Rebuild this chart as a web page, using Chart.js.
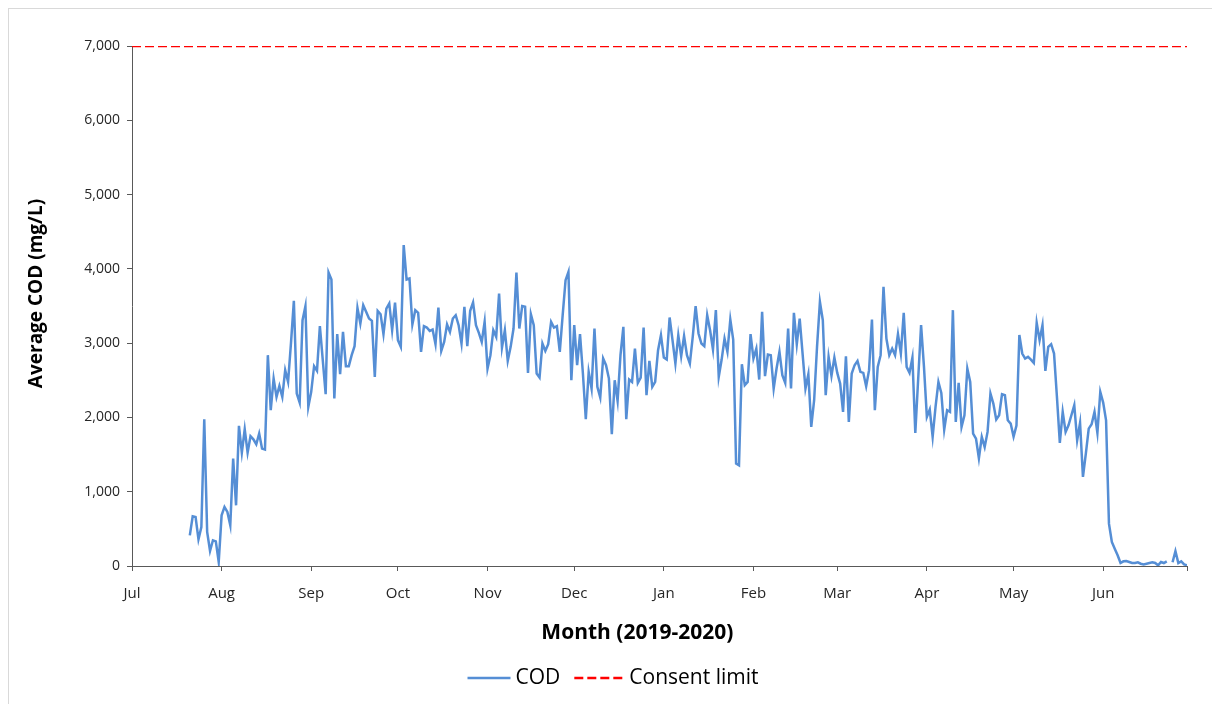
<!DOCTYPE html>
<html>
<head>
<meta charset="utf-8">
<script src="https://cdn.jsdelivr.net/npm/chart.js@4.4.1/dist/chart.umd.min.js"></script>
<style>
  html, body { margin: 0; padding: 0; background: #ffffff; }
  #wrap { position: relative; width: 1212px; height: 704px; }
  canvas { display: block; }
</style>
</head>
<body>
<div id="wrap"><canvas id="chart" width="1212" height="704"></canvas></div>
<script>
// Month tick labels and the day offset (from 1 Jul 2019) where each month starts
const monthLabels = ['Jul', 'Aug', 'Sep', 'Oct', 'Nov', 'Dec', 'Jan', 'Feb', 'Mar', 'Apr', 'May', 'Jun'];
const monthStartDays = [0, 31, 62, 92, 123, 153, 184, 215, 244, 275, 305, 336];
const axisEndDay = 365;          // 30 Jun 2020

// Daily average COD (mg/L), first sample on 21 Jul 2019 (day 20)
const firstDay = 20;
const codValues = [
  413, 669, 660, 359, 525, 1975, 458, 202, 346, 332,
  54, 682, 795, 727, 548, 1446, 817, 1886, 1527, 1841,
  1527, 1747, 1706, 1639, 1783, 1580, 1567, 2838, 2097, 2523,
  2276, 2424, 2276, 2636, 2478, 3000, 3570, 2321, 2200, 3309,
  3498, 2142, 2344, 2690, 2627, 3228, 2770, 2312, 3951, 3857,
  2254, 3121, 2582, 3152, 2690, 2690, 2838, 2959, 3475, 3264,
  3511, 3421, 3331, 3300, 2546, 3435, 3390, 3121, 3466, 3534,
  3174, 3547, 3040, 2950, 4319, 3857, 3870, 3251, 3444, 3408,
  2883, 3228, 3210, 3165, 3183, 2986, 3480, 2896, 3017, 3251,
  3152, 3331, 3376, 3242, 2995, 3489, 2959, 3435, 3547, 3242,
  3139, 3017, 3287, 2658, 2838, 3174, 3085, 3668, 2941, 3174,
  2761, 2950, 3197, 3951, 3197, 3498, 3489, 2600, 3390, 3242,
  2591, 2537, 2995, 2896, 2986, 3287, 3210, 3228, 2883, 3376,
  3848, 3960, 2501, 3242, 2703, 3121, 2591, 1976, 2613, 2389,
  3197, 2411, 2267, 2793, 2703, 2523, 1774, 2501, 2223, 2838,
  3219, 1976, 2510, 2478, 2927, 2465, 2537, 3210, 2300, 2761,
  2411, 2478, 2905, 3107, 2806, 2779, 3345, 3040, 2725, 3107,
  2824, 3094, 2838, 2725, 3085, 3498, 3130, 2995, 2959, 3376,
  3174, 2914, 3444, 2546, 2779, 3062, 2883, 3318, 3049, 1378,
  1356, 2716, 2434, 2478, 3121, 2793, 2927, 2510, 3421, 2555,
  2847, 2838, 2389, 2658, 2883, 2568, 2465, 3197, 2389, 3408,
  2986, 3331, 2860, 2389, 2582, 1872, 2232, 2950, 3556, 3309,
  2299, 2815, 2560, 2806, 2600, 2456, 2074, 2824, 1940, 2591,
  2703, 2761, 2613, 2600, 2420, 2636, 3318, 2097, 2681, 2838,
  3758, 3062, 2838, 2927, 2838, 3121, 2860, 3408, 2681, 2600,
  2806, 1792, 2520, 3242, 2681, 2007, 2106, 1738, 2142, 2478,
  2330, 1836, 2097, 2074, 3444, 1940, 2465, 1872, 2029, 2658,
  2478, 1783, 1715, 1450, 1738, 1600, 1805, 2321, 2187, 1971,
  2029, 2312, 2299, 1962, 1917, 1740, 1890, 3110, 2860, 2793,
  2815, 2779, 2734, 3273, 3040, 3242, 2627, 2950, 2986, 2860,
  2276, 1657, 2074, 1805, 1895, 2029, 2164, 1693, 1926, 1199,
  1513, 1850, 1908, 2074, 1792, 2344, 2200, 1960, 570, 323,
  233, 144, 40, 63, 67, 54, 40, 40, 49, 31,
  22, 31, 40, 49, 40, 9, 54, 40, 63, null,
  50, 200, 40, 63, 22, 10
];

// Consent limit (mg/L)
const consentLimit = 7000;

// Value axis range
const yMin = 0, yMax = 7000, yStep = 1000;

// Axis titles
const xTitle = 'Month (2019-2020)';
const yTitle = 'Average COD (mg/L)';

const codPoints = codValues.map((v, i) => ({ x: firstDay + i, y: v }));
const limitPoints = [{ x: 0, y: consentLimit }, { x: axisEndDay, y: consentLimit }];

const FONT = "'Open Sans', 'Noto Sans', sans-serif";
const AXIS_GREY = '#595959';

// Light frame along the top and left of the figure
const framePlugin = {
  id: 'frame',
  beforeDraw(chart) {
    const ctx = chart.ctx;
    ctx.save();
    ctx.fillStyle = '#ffffff';
    ctx.fillRect(0, 0, chart.width, chart.height);
    ctx.strokeStyle = '#d9d9d9';
    ctx.lineWidth = 1;
    ctx.strokeRect(8.5, 8.5, chart.width + 10, chart.height + 10);
    ctx.restore();
  }
};

// Axis titles, placed relative to the plot area
const axisTitlePlugin = {
  id: 'axisTitles',
  afterDraw(chart) {
    const ctx = chart.ctx;
    const area = chart.chartArea;
    ctx.save();
    ctx.fillStyle = '#000000';
    ctx.textAlign = 'center';
    ctx.textBaseline = 'middle';
    ctx.font = "bold 21px " + FONT;
    ctx.fillText(xTitle, area.left + (area.right - area.left) * 0.479, area.bottom + 67);
    ctx.translate(37, area.top + (area.bottom - area.top) * 0.476);
    ctx.rotate(-Math.PI / 2);
    ctx.font = "bold 19px " + FONT;
    ctx.fillText(yTitle, 0, 0);
    ctx.restore();
  }
};

// Legend row under the axis: line sample followed by the series name
const legendPlugin = {
  id: 'lineLegend',
  afterDraw(chart) {
    const ctx = chart.ctx;
    const sampleLen = [43, 50];
    const sampleGap = 5, itemGap = 14;
    const y = 678;
    ctx.save();
    ctx.font = "21px " + FONT;
    const items = chart.data.datasets.map((ds, i) => ({
      label: ds.label, color: ds.borderColor, width: ds.borderWidth,
      dash: ds.borderDash || [], len: sampleLen[i], textW: ctx.measureText(ds.label).width
    }));
    const total = items.reduce((s, it) => s + it.len + sampleGap + it.textW, 0) + itemGap * (items.length - 1);
    let x = 613 - total / 2;
    items.forEach(it => {
      ctx.beginPath();
      ctx.setLineDash(it.dash);
      ctx.strokeStyle = it.color;
      ctx.lineWidth = it.width;
      ctx.moveTo(x, y);
      ctx.lineTo(x + it.len, y);
      ctx.stroke();
      ctx.setLineDash([]);
      x += it.len + sampleGap;
      ctx.fillStyle = '#000000';
      ctx.textAlign = 'left';
      ctx.textBaseline = 'middle';
      ctx.fillText(it.label, x, y);
      x += it.textW + itemGap;
    });
    ctx.restore();
  }
};

new Chart(document.getElementById('chart'), {
  type: 'line',
  data: {
    datasets: [
      {
        label: 'COD',
        data: codPoints,
        borderColor: '#558ed5',
        backgroundColor: '#558ed5',
        borderWidth: 2.5,
        pointRadius: 0,
        tension: 0,
        spanGaps: false
      },
      {
        label: 'Consent limit',
        data: limitPoints,
        borderColor: '#ff0000',
        backgroundColor: '#ff0000',
        borderWidth: 2.5,
        borderDash: [9, 4],
        pointRadius: 0
      }
    ]
  },
  options: {
    responsive: false,
    animation: false,
    devicePixelRatio: 1,
    layout: { padding: { top: 46, right: 25, bottom: 46, left: 0 } },
    plugins: {
      tooltip: { enabled: false },
      legend: { display: false }
    },
    scales: {
      x: {
        type: 'linear',
        min: 0,
        max: axisEndDay,
        afterFit(scale) { scale.height = 92; },
        afterBuildTicks(scale) {
          scale.ticks = monthStartDays.concat([axisEndDay]).map(v => ({ value: v }));
        },
        ticks: {
          autoSkip: false,
          maxRotation: 0,
          padding: 14,
          color: '#262626',
          font: { family: FONT, size: 15 },
          callback(value) {
            const i = monthStartDays.indexOf(value);
            return i >= 0 ? monthLabels[i] : '';
          }
        },
        grid: { drawOnChartArea: false, drawTicks: true, tickLength: 5, color: AXIS_GREY },
        border: { display: true, color: AXIS_GREY, width: 1 }
      },
      y: {
        min: yMin,
        max: yMax,
        afterFit(scale) { scale.width = 132; },
        ticks: {
          stepSize: yStep,
          padding: 7,
          color: '#262626',
          font: { family: FONT, size: 14 },
          callback(value) { return value.toLocaleString('en-US'); }
        },
        grid: { drawOnChartArea: false, drawTicks: true, tickLength: 5, color: AXIS_GREY },
        border: { display: true, color: AXIS_GREY, width: 1 }
      }
    }
  },
  plugins: [framePlugin, axisTitlePlugin, legendPlugin]
});
</script>
</body>
</html>
